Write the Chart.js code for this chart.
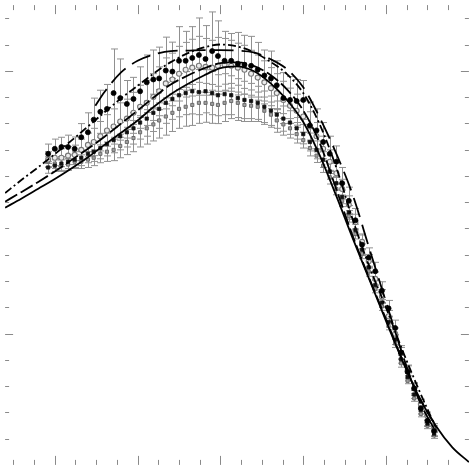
<!DOCTYPE html>
<html>
<head>
<meta charset="utf-8">
<script src="https://cdn.jsdelivr.net/npm/chart.js@4.4.1/dist/chart.umd.min.js"></script>
<style>
  html, body { margin: 0; padding: 0; background: #fff; }
  #wrap { width: 474px; height: 470px; }
</style>
</head>
<body>
<div id="wrap"><canvas id="chart" width="474" height="470"></canvas></div>
<script>
// measured points: common x positions
const pointX = [
  0.92, 1.00, 1.08, 1.16, 1.24, 1.32, 1.40, 1.47, 1.55, 1.63,
  1.71, 1.79, 1.87, 1.95, 2.03, 2.11, 2.19, 2.26, 2.34, 2.42,
  2.50, 2.58, 2.66, 2.74, 2.82, 2.90, 2.97, 3.05, 3.13, 3.21,
  3.29, 3.37, 3.45, 3.53, 3.61, 3.68, 3.76, 3.84, 3.92, 4.00,
  4.08, 4.16, 4.24, 4.32, 4.40, 4.47, 4.55, 4.63, 4.71, 4.79,
  4.87, 4.95, 5.03, 5.11, 5.18, 5.26, 5.34, 5.42, 5.50, 5.58
];

// filled circles (upper set)
const dotsUpper = [
  1.684, 1.703, 1.710, 1.710, 1.703, 1.747, 1.766, 1.814, 1.844, 1.855,
  1.915, 1.896, 1.874, 1.893, 1.922, 1.956, 1.967, 1.971, 2.001, 1.997,
  2.038, 2.038, 2.049, 2.060, 2.045, 2.075, 2.056, 2.038, 2.038, 2.027,
  2.023, 2.019, 2.004, 1.982, 1.971, 1.945, 1.896, 1.889, 1.885, 1.889,
  1.792, 1.773, 1.729, 1.684, 1.654, 1.572, 1.505, 1.431, 1.338, 1.289,
  1.237, 1.163, 1.096, 1.021, 0.928, 0.854, 0.791, 0.716, 0.668, 0.630
];
const errUpper = [
  0.037, 0.037, 0.037, 0.045, 0.045, 0.052, 0.074, 0.082, 0.082, 0.093,
  0.168, 0.149, 0.089, 0.082, 0.093, 0.104, 0.112, 0.119, 0.127, 0.112,
  0.130, 0.112, 0.119, 0.141, 0.127, 0.149, 0.134, 0.112, 0.104, 0.119,
  0.112, 0.112, 0.104, 0.097, 0.104, 0.093, 0.097, 0.089, 0.082, 0.074,
  0.089, 0.082, 0.074, 0.067, 0.060, 0.060, 0.052, 0.045, 0.037, 0.037,
  0.034, 0.034, 0.030, 0.030, 0.026, 0.026, 0.022, 0.022, 0.019, 0.019
];

// open circles
const ringsMid = [
  1.662, 1.669, 1.669, 1.677, 1.680, 1.699, 1.718, 1.729, 1.751, 1.773,
  1.788, 1.807, 1.818, 1.840, 1.863, 1.878, 1.900, 1.922, 1.952, 1.967,
  1.989, 2.004, 2.012, 2.019, 2.015, 2.012, 2.019, 2.023, 2.019, 2.012,
  2.004, 1.989, 1.974, 1.956, 1.934, 1.915, 1.889, 1.867, 1.848, 1.826,
  1.788, 1.751, 1.703, 1.654, 1.610, 1.550, 1.490, 1.424, 1.349, 1.275,
  1.208, 1.141, 1.066, 0.999, 0.925, 0.858, 0.791, 0.731, 0.686, 0.642
];
const errMid = [
  0.030, 0.030, 0.034, 0.034, 0.037, 0.041, 0.045, 0.052, 0.056, 0.060,
  0.067, 0.071, 0.074, 0.078, 0.082, 0.086, 0.089, 0.093, 0.097, 0.100,
  0.104, 0.104, 0.108, 0.112, 0.108, 0.104, 0.108, 0.100, 0.097, 0.093,
  0.093, 0.089, 0.086, 0.082, 0.078, 0.074, 0.071, 0.067, 0.063, 0.060,
  0.056, 0.052, 0.048, 0.045, 0.041, 0.037, 0.034, 0.030, 0.030, 0.026,
  0.026, 0.026, 0.022, 0.022, 0.022, 0.019, 0.019, 0.019, 0.015, 0.015
];

// filled squares
const squaresLow = [
  1.632, 1.639, 1.647, 1.654, 1.662, 1.669, 1.684, 1.692, 1.706, 1.721,
  1.736, 1.751, 1.766, 1.781, 1.803, 1.818, 1.840, 1.855, 1.878, 1.893,
  1.907, 1.915, 1.922, 1.919, 1.922, 1.915, 1.907, 1.911, 1.907, 1.896,
  1.889, 1.885, 1.878, 1.863, 1.848, 1.833, 1.818, 1.803, 1.781, 1.759,
  1.729, 1.699, 1.662, 1.617, 1.572, 1.520, 1.461, 1.394, 1.319, 1.252,
  1.185, 1.118, 1.044, 0.977, 0.902, 0.835, 0.768, 0.709, 0.657, 0.619
];
const errLow = [
  0.022, 0.022, 0.026, 0.026, 0.030, 0.030, 0.034, 0.037, 0.041, 0.045,
  0.048, 0.052, 0.056, 0.060, 0.063, 0.067, 0.071, 0.074, 0.078, 0.078,
  0.082, 0.082, 0.086, 0.086, 0.082, 0.082, 0.078, 0.078, 0.074, 0.074,
  0.071, 0.067, 0.063, 0.060, 0.056, 0.052, 0.048, 0.045, 0.041, 0.037,
  0.034, 0.034, 0.030, 0.030, 0.026, 0.026, 0.026, 0.022, 0.022, 0.022,
  0.019, 0.019, 0.019, 0.019, 0.015, 0.015, 0.015, 0.015, 0.011, 0.011
];

// grey squares
const squaresGrey = [
  1.654, 1.647, 1.639, 1.643, 1.654, 1.654, 1.662, 1.669, 1.684, 1.692,
  1.699, 1.714, 1.729, 1.744, 1.766, 1.781, 1.796, 1.811, 1.826, 1.840,
  1.855, 1.863, 1.870, 1.878, 1.878, 1.874, 1.870, 1.878, 1.885, 1.878,
  1.870, 1.867, 1.863, 1.848, 1.833, 1.811, 1.796, 1.781, 1.759, 1.736,
  1.706, 1.677, 1.639, 1.595, 1.550, 1.505, 1.446, 1.379, 1.304, 1.237,
  1.170, 1.103, 1.029, 0.962, 0.887, 0.820, 0.753, 0.694, 0.649, 0.612
];
const errGrey = [
  0.019, 0.019, 0.022, 0.022, 0.026, 0.026, 0.030, 0.030, 0.034, 0.037,
  0.041, 0.045, 0.048, 0.052, 0.056, 0.060, 0.063, 0.067, 0.071, 0.071,
  0.074, 0.074, 0.078, 0.078, 0.074, 0.074, 0.071, 0.071, 0.067, 0.067,
  0.063, 0.060, 0.056, 0.052, 0.048, 0.045, 0.041, 0.037, 0.034, 0.030,
  0.030, 0.026, 0.026, 0.026, 0.022, 0.022, 0.022, 0.019, 0.019, 0.019,
  0.015, 0.015, 0.015, 0.015, 0.015, 0.011, 0.011, 0.011, 0.011, 0.011
];

// model curves
const curveX = [
  0.4, 0.6, 0.8, 1.0, 1.2, 1.4, 1.6, 1.8, 2.0, 2.2,
  2.4, 2.6, 2.8, 3.0, 3.2, 3.4, 3.6, 3.8, 4.0, 4.2,
  4.4, 4.6, 4.8, 5.0, 5.2, 5.4, 5.6, 5.8, 6.0
];
const solidY = [
  1.479, 1.514, 1.551, 1.588, 1.628, 1.671, 1.718, 1.764, 1.811, 1.864,
  1.911, 1.949, 1.982, 2.010, 2.017, 1.999, 1.954, 1.890, 1.805, 1.677,
  1.523, 1.360, 1.204, 1.047, 0.895, 0.757, 0.649, 0.567, 0.511
];
const dashedY = [
  1.502, 1.539, 1.577, 1.617, 1.660, 1.703, 1.749, 1.799, 1.849, 1.900,
  1.948, 1.981, 2.009, 2.029, 2.032, 2.019, 1.985, 1.930, 1.849, 1.724,
  1.548, 1.369, 1.208, 1.054, 0.897, 0.757, 0.649
];
const dashDotY = [
  1.535, 1.585, 1.633, 1.683, 1.734, 1.788, 1.842, 1.895, 1.943, 1.991,
  2.033, 2.066, 2.089, 2.100, 2.093, 2.071, 2.035, 1.988, 1.915, 1.795,
  1.631, 1.431, 1.253, 1.098, 0.934, 0.783, 0.642
];
const longDashX = [
  1.49, 1.6, 1.8, 2.0, 2.2, 2.4, 2.6, 2.8, 3.0, 3.2, 3.4,
  3.6, 3.8, 4.0, 4.2, 4.4, 4.6, 4.8, 5.0, 5.2, 5.4, 5.6
];
const longDashY = [
  1.867, 1.919, 1.994, 2.038, 2.062, 2.075, 2.077, 2.079, 2.079, 2.077, 2.070,
  2.045, 2.007, 1.937, 1.821, 1.684, 1.525, 1.321, 1.119, 0.919, 0.745, 0.626
];

// tick positions (no labels in the figure)
const xTickValues = [0.5, 0.75, 1, 1.25, 1.5, 1.75, 2, 2.25, 2.5, 2.75, 3, 3.25,
  3.5, 3.75, 4, 4.25, 4.5, 4.75, 5, 5.25, 5.5, 5.75];
const yTickValues = [0.6, 0.7, 0.8, 0.9, 1.0, 1.1, 1.2, 1.3, 1.4, 1.5, 1.6, 1.7,
  1.8, 1.9, 2.0, 2.1, 2.2];
const xMajor = [1, 2, 3, 4, 5];
const yMajor = [1.0, 2.0];

const pts = (xs, ys) => ys.map((v, i) => ({ x: xs[i], y: v }));

// vertical error bars, drawn under the markers
const errorBars = {
    id: 'errorBars',
    beforeDatasetsDraw(chart) {
        const ctx = chart.ctx;
        const xs = chart.scales.x, ys = chart.scales.y;
        ctx.save();
        ctx.strokeStyle = '#909090';
        ctx.lineWidth = 1;
        chart.data.datasets.forEach(ds => {
            if (!ds.errors) return;
            ds.data.forEach((p, i) => {
                const px = Math.round(xs.getPixelForValue(p.x)) + 0.5;
                const top = ys.getPixelForValue(p.y + ds.errors[i]);
                const bot = ys.getPixelForValue(p.y - ds.errors[i]);
                ctx.beginPath();
                ctx.moveTo(px, top); ctx.lineTo(px, bot);
                ctx.moveTo(px - 3.5, top); ctx.lineTo(px + 3.5, top);
                ctx.moveTo(px - 3.5, bot); ctx.lineTo(px + 3.5, bot);
                ctx.stroke();
            });
        });
        ctx.restore();
    }
};

// inward ticks on all four sides
const frameTicks = {
    id: 'frameTicks',
    afterDraw(chart) {
        const ctx = chart.ctx;
        const a = chart.chartArea;
        const xs = chart.scales.x, ys = chart.scales.y;
        ctx.save();
        ctx.strokeStyle = '#8a8a8a';
        ctx.lineWidth = 1;
        const seg = (x1, y1, x2, y2) => {
            ctx.beginPath(); ctx.moveTo(x1, y1); ctx.lineTo(x2, y2); ctx.stroke();
        };
        xTickValues.forEach(v => {
            const px = Math.round(xs.getPixelForValue(v)) + 0.5;
            const len = xMajor.includes(v) ? 9 : 5;
            seg(px, a.bottom, px, a.bottom - len);
            seg(px, a.top, px, a.top + len);
        });
        yTickValues.forEach(v => {
            const py = Math.round(ys.getPixelForValue(v)) + 0.5;
            const len = yMajor.includes(v) ? 8 : 4;
            seg(a.left, py, a.left + len, py);
            seg(a.right, py, a.right - len, py);
        });
        ctx.restore();
    }
};

const lineStyle = {
    showLine: true,
    pointRadius: 0,
    borderColor: '#000',
    borderWidth: 1.8,
    cubicInterpolationMode: 'monotone',
    fill: false,
    order: 0
};

const ctx = document.getElementById('chart').getContext('2d');
const chart = new Chart(ctx, {
    type: 'scatter',
    data: {
        datasets: [
            { label: 'grey squares', data: pts(pointX, squaresGrey), errors: errGrey,
              pointStyle: 'rect', pointRadius: 2.2, backgroundColor: '#a0a0a0',
              borderColor: '#6a6a6a', borderWidth: 1, order: 4 },
            { label: 'squares', data: pts(pointX, squaresLow), errors: errLow,
              pointStyle: 'rect', pointRadius: 2.3, backgroundColor: '#111',
              borderColor: '#111', borderWidth: 0.8, order: 3 },
            { label: 'rings', data: pts(pointX, ringsMid), errors: errMid,
              pointStyle: 'circle', pointRadius: 2.5, backgroundColor: '#ececec',
              borderColor: '#777', borderWidth: 1.1, order: 2 },
            { label: 'dots', data: pts(pointX, dotsUpper), errors: errUpper,
              pointStyle: 'circle', pointRadius: 2.5, backgroundColor: '#000',
              borderColor: '#000', borderWidth: 0.8, order: 1 },
            Object.assign({ label: 'solid', data: pts(curveX, solidY) }, lineStyle),
            Object.assign({ label: 'dashed', data: pts(curveX, dashedY), borderDash: [14, 4] }, lineStyle),
            Object.assign({ label: 'dash-dot', data: pts(curveX, dashDotY), borderDash: [8, 3, 2, 3] }, lineStyle),
            Object.assign({ label: 'long dash', data: pts(longDashX, longDashY), borderDash: [20, 8] }, lineStyle)
        ]
    },
    options: {
        responsive: false,
        animation: false,
        layout: { padding: 0 },
        plugins: {
            legend: { display: false },
            tooltip: { enabled: false }
        },
        scales: {
            x: { type: 'linear', min: 0.4, max: 6.0, display: false },
            y: { type: 'linear', min: 0.5, max: 2.25, display: false }
        }
    },
    plugins: [errorBars, frameTicks]
});
</script>
</body>
</html>
